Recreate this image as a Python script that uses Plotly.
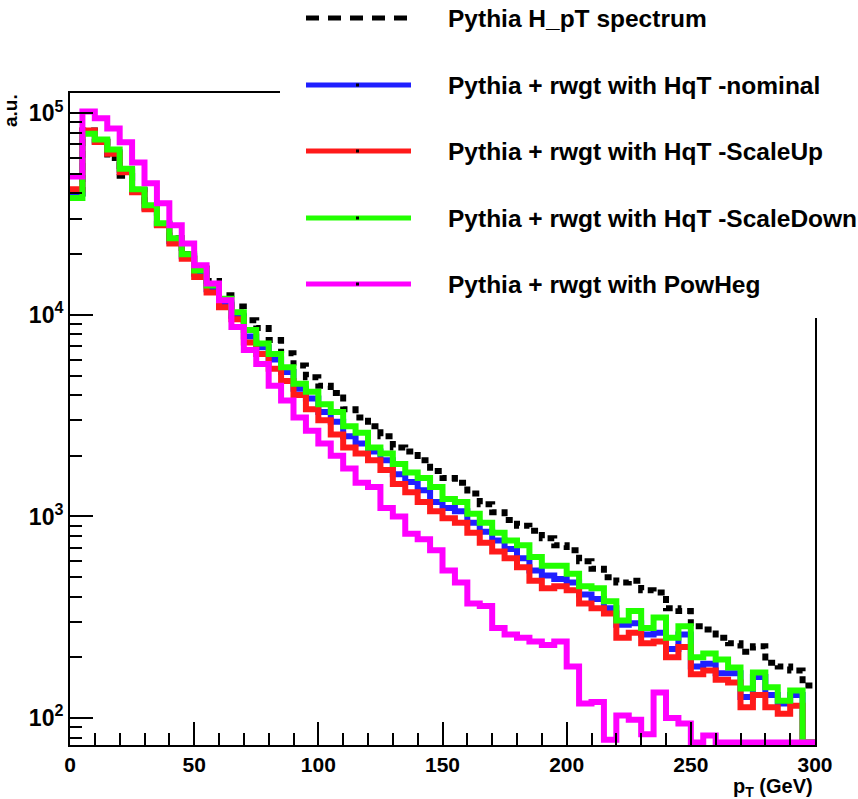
import numpy as np
import plotly.graph_objects as go

# ---------------- data (bin contents, 5 GeV bins from 0 to 300 GeV) ----------------
bin_edges = list(range(0, 305, 5))

pythia_hpt = [40000, 82000, 72000, 60000, 49000, 41500, 34000, 28000, 24000, 20000,
              17000, 14700, 12500, 11000, 9400, 8600, 7500, 6450, 5600, 4900,
              4450, 4100, 3400, 3100, 2800, 2500, 2200, 2100, 1900, 1680,
              1550, 1470, 1300, 1150, 1050, 960, 900, 850, 780, 720,
              680, 600, 550, 500, 470, 480, 430, 420, 350, 340,
              285, 275, 250, 235, 213, 227, 188, 180, 172, 145]

hqt_nominal = [40000, 80000, 73000, 64000, 52000, 41500, 34000, 28200, 23200, 19500,
               16000, 13400, 11400, 9900, 7800, 6900, 6000, 5200, 4300, 3850,
               3300, 2950, 2500, 2300, 2100, 1900, 1620, 1480, 1350, 1180,
               1100, 1060, 930, 840, 760, 690, 620, 540, 510, 490,
               470, 410, 390, 350, 290, 295, 260, 265, 220, 260,
               180, 186, 167, 167, 127, 160, 130, 118, 130, 0]

hqt_scaleup = [42000, 82000, 72000, 63000, 51000, 40500, 33400, 27800, 22600, 19000,
               15400, 12900, 10900, 9500, 7300, 6400, 5400, 4700, 4000, 3400,
               3000, 2550, 2200, 2050, 1900, 1700, 1450, 1320, 1180, 1060,
               980, 930, 830, 740, 670, 620, 560, 480, 440, 450,
               430, 370, 350, 330, 250, 265, 235, 240, 200, 225,
               165, 172, 155, 150, 113, 130, 113, 105, 115, 0]

hqt_scaledown = [38000, 79000, 74000, 66000, 53000, 42000, 35000, 28500, 24000, 20000,
                 16600, 14000, 12000, 10300, 8400, 7200, 6400, 5500, 4550, 4150,
                 3600, 3300, 2800, 2600, 2200, 2050, 1820, 1650, 1550, 1400,
                 1220, 1180, 1030, 930, 830, 760, 720, 630, 570, 570,
                 520, 450, 440, 380, 305, 340, 280, 315, 250, 285,
                 200, 209, 195, 178, 140, 168, 142, 122, 137, 0]

powheg = [48600, 102000, 94500, 84000, 71800, 57000, 44900, 35800, 27800, 22600,
          17600, 14300, 11800, 8700, 6700, 5700, 4450, 3760, 3100, 2660,
          2300, 2000, 1730, 1470, 1400, 1100, 1000, 820, 770, 680,
          540, 470, 370, 360, 280, 260, 250, 240, 230, 240,
          180, 118, 120, 78, 103, 98, 83, 134, 100, 94,
          0, 82, 0, 0, 0, 0, 0, 0, 0, 0]

series_names = ["Pythia H_pT spectrum",
                "Pythia + rwgt with HqT -nominal",
                "Pythia + rwgt with HqT -ScaleUp",
                "Pythia + rwgt with HqT -ScaleDown",
                "Pythia + rwgt with PowHeg"]
series_colors = ["#000000", "#1f1fff", "#ff1a1a", "#22ff00", "#ff00ff"]

x_tick_vals = [0, 50, 100, 150, 200, 250, 300]
y_tick_vals = [1e2, 1e3, 1e4, 1e5]
y_tick_text = ["10<sup>2</sup>", "10<sup>3</sup>", "10<sup>4</sup>", "10<sup>5</sup>"]
x_title = "p<sub>T</sub> (GeV)"
y_title = "a.u."

# ---------------- figure geometry ----------------
W, H = 858, 799
L, R, T, B = 70, 43, 93, 54
PW, PH = W - L - R, H - T - B
y_lo, y_hi = np.log10(73.5), np.log10(1.26e5)
floor_val = 10 ** (y_lo + 0.012)   # empty / underflow bins drawn on the frame bottom (ROOT style)


def px(xp):
    return (xp - L) / PW


def py(yp):
    return (H - B - yp) / PH


def step_xy(vals):
    v = np.maximum(np.asarray(vals, dtype=float), floor_val)
    return bin_edges, list(np.append(v, v[-1]))


FONT = "Liberation Sans, Arial, sans-serif"
fig = go.Figure()

all_series = [pythia_hpt, hqt_nominal, hqt_scaleup, hqt_scaledown, powheg]
for i, (vals, name, col) in enumerate(zip(all_series, series_names, series_colors)):
    xs, ys = step_xy(vals)
    fig.add_trace(go.Scatter(
        x=xs, y=ys, mode="lines", name=name, showlegend=False,
        line=dict(color=col, width=6, shape="hv",
                  dash="7px,5px" if i == 0 else "solid"),
        hoverinfo="skip"))

# ---------------- axes ----------------
minor_y = [d * 10 ** e for e in range(1, 6) for d in range(2, 10)]
fig.update_xaxes(range=[0, 300], showgrid=False, zeroline=False,
                 showline=True, linecolor="black", linewidth=2, mirror=True,
                 ticks="inside", ticklen=23, tickwidth=2, tickcolor="black",
                 tickvals=x_tick_vals,
                 minor=dict(ticks="inside", ticklen=12, tickwidth=2, tickcolor="black", dtick=10),
                 tickfont=dict(family=FONT, size=21, color="black", weight="bold"))
fig.update_yaxes(type="log", range=[y_lo, y_hi], showgrid=False, zeroline=False,
                 showline=True, linecolor="black", linewidth=2, mirror=True,
                 ticks="inside", ticklen=23, tickwidth=2, tickcolor="black",
                 tickvals=y_tick_vals, ticktext=y_tick_text,
                 minor=dict(ticks="inside", ticklen=12, tickwidth=2, tickcolor="black",
                            tickvals=minor_y),
                 tickfont=dict(family=FONT, size=23, color="black", weight="bold"))

# ---------------- legend (ROOT TLegend look) ----------------
shapes = [dict(type="rect", xref="paper", yref="paper", layer="above",
               x0=px(280), x1=px(W + 5), y0=py(318), y1=py(-5),
               fillcolor="white", line=dict(width=0))]
annotations = []
leg_y = [18, 85, 151, 218, 284]
for i, (name, col) in enumerate(zip(series_names, series_colors)):
    yy = py(leg_y[i])
    shapes.append(dict(type="line", xref="paper", yref="paper", layer="above",
                       x0=px(306), x1=px(411), y0=yy, y1=yy,
                       line=dict(color=col, width=5, dash="13px,9px" if i == 0 else "solid")))
    if i > 0:
        shapes.append(dict(type="rect", xref="paper", yref="paper", layer="above",
                           x0=px(356), x1=px(359), y0=py(leg_y[i] + 1.5), y1=py(leg_y[i] - 1.5),
                           fillcolor="black", line=dict(width=0)))
    annotations.append(dict(text=name, xref="paper", yref="paper", x=px(446), y=yy,
                            xanchor="left", yanchor="middle", showarrow=False,
                            font=dict(family=FONT, size=24.5, color="black", weight="bold")))

annotations.append(dict(text=x_title, xref="paper", yref="paper", x=px(815), y=py(787),
                        xanchor="right", yanchor="middle", showarrow=False,
                        font=dict(family=FONT, size=20, color="black", weight="bold")))
annotations.append(dict(text=y_title, xref="paper", yref="paper", x=px(11), y=py(110),
                        xanchor="center", yanchor="middle", showarrow=False, textangle=-90,
                        font=dict(family=FONT, size=19, color="black", weight="bold")))

fig.update_layout(width=W, height=H, margin=dict(l=L, r=R, t=T, b=B, pad=0),
                  paper_bgcolor="white", plot_bgcolor="white",
                  showlegend=False, shapes=shapes, annotations=annotations)

fig.write_html("out.html")
